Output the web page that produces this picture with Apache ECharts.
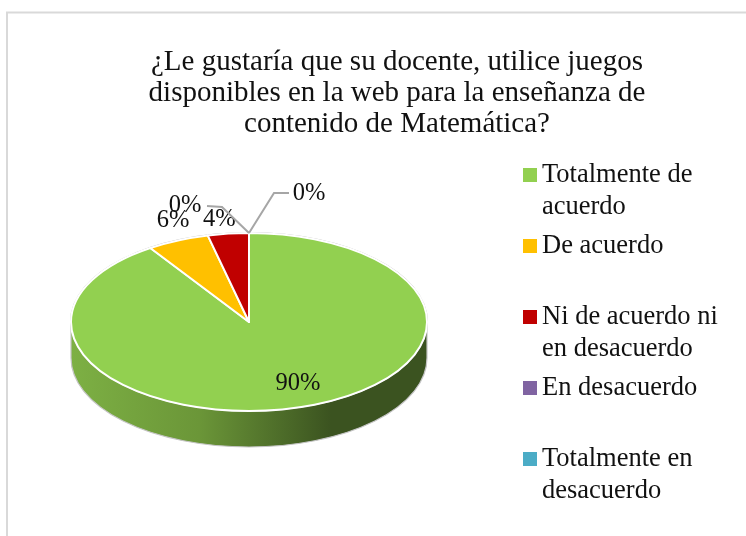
<!DOCTYPE html>
<html><head><meta charset="utf-8">
<style>html,body{margin:0;padding:0;background:#fff}#c{width:746px;height:536px}</style>
<script src="https://cdn.jsdelivr.net/npm/echarts@6/dist/echarts.min.js"></script>
</head><body><div id="c"></div>
<script>
const titleText = '¿Le gustaría que su docente, utilice juegos\ndisponibles en la web para la enseñanza de\ncontenido de Matemática?';
const categories = ['Totalmente de acuerdo','De acuerdo','Ni de acuerdo ni en desacuerdo','En desacuerdo','Totalmente en desacuerdo'];
const legendLabels = ['Totalmente de\nacuerdo','De acuerdo','Ni de acuerdo ni\nen desacuerdo','En desacuerdo','Totalmente en\ndesacuerdo'];
const values = [90,6,4,0,0];
const colors = ['#92D050','#FFC000','#C00000','#8064A2','#4BACC6'];

// layout
const FONT = '"Liberation Serif"';
const C = {x:249,y:322,rx:178,ry:89,depth:36,persp:0.07};
const labelRadius = [0.7,1,1,1,1];
const labelOffset = [[8,3],[-5,-20],[-9,-14],[-64,-27],[60,-39]];
const leaders = [null,null,null,[[-27,-26],[-42,-27]],[[25,-40],[40,-40]]];
const legendTops = [159,230,301,372,443];

const total = values.reduce((a,b)=>a+b,0);
// the tilted disc's far side is foreshortened, as in a 3D pie projection
function warp(t){
  const s=Math.sin(t)*(1-C.persp*Math.cos(t));
  return Math.atan2(s,(Math.cos(t)>=0?1:-1)*Math.sqrt(1-s*s));
}
const pt = (t,f=1)=>{const w=warp(t);return [C.x+C.rx*f*Math.sin(w), C.y-C.ry*f*Math.cos(w)];};
function renderSlice(i){
  return function(params,api){
    const v = api.value(0);
    let before = 0; for(let k=0;k<i;k++) before += values[k];
    const a0 = before/total*2*Math.PI, a1 = (before+v)/total*2*Math.PI, mid=(a0+a1)/2;
    const children = [];
    if(i===0){
      children.push({type:'ellipse',shape:{cx:C.x,cy:C.y,rx:C.rx,ry:C.ry},style:{fill:'none',stroke:'#b5b5b5',lineWidth:2}});
      const l=C.x-C.rx,r=C.x+C.rx,b=C.y+C.depth;
      children.push({type:'path',
        shape:{pathData:`M${l} ${C.y}A${C.rx} ${C.ry} 0 0 0 ${r} ${C.y}L${r} ${b}A${C.rx} ${C.ry} 0 0 1 ${l} ${b}Z`},
        style:{stroke:'#c4c4c4',lineWidth:1.2,fill:{type:'linear',x:0,y:0,x2:1,y2:0,colorStops:[
          {offset:0,color:'#7DB044'},{offset:0.36,color:'#6B9638'},{offset:0.73,color:'#3B5320'},{offset:1,color:'#3B5320'}]}}});
    }
    if(v>0){
      const p0=pt(a0),p1=pt(a1),large=(a1-a0)>Math.PI?1:0;
      children.push({type:'path',
        shape:{pathData:`M${C.x} ${C.y}L${p0[0]} ${p0[1]}A${C.rx} ${C.ry} 0 ${large} 1 ${p1[0]} ${p1[1]}Z`},
        style:{fill:colors[i],stroke:'#fff',lineWidth:2,lineJoin:'round'}});
    }
    const anchor = pt(mid,labelRadius[i]);
    if(leaders[i]){
      const pts=[anchor].concat(leaders[i].map(d=>[anchor[0]+d[0],anchor[1]+d[1]]));
      children.push({type:'polyline',z2:20,shape:{points:pts},style:{fill:'none',stroke:'#a6a6a6',lineWidth:2}});
    }
    children.push({type:'text',z2:30,x:anchor[0]+labelOffset[i][0],y:anchor[1]+labelOffset[i][1],
      style:{text:Math.round(v/total*100)+'%',font:'24.5px '+FONT,fill:'#111',align:'center',verticalAlign:'middle'}});
    return {type:'group',children};
  };
}
const series = categories.map((name,i)=>({
  type:'custom',name,coordinateSystem:'none',silent:true,animation:false,
  z:2+i,
  itemStyle:{color:colors[i]},
  data:[[values[i]]],
  renderItem:renderSlice(i)
}));
const legends = categories.map((name,i)=>{
  const two = legendLabels[i].includes('\n');
  return {
    show:true,data:[name],orient:'vertical',left:523,top:legendTops[i],padding:0,selectedMode:false,
    itemWidth:14,itemHeight:two?46:14,itemGap:0,symbolKeepAspect:false,
    icon:two?'path://M0 0h14v14h-14z M0 46h0':'rect',
    formatter:()=>legendLabels[i],
    textStyle:{fontFamily:FONT,fontSize:26.5,lineHeight:32,color:'#111'}
  };
});
const chart = echarts.init(document.getElementById('c'),null,{renderer:'canvas'});
chart.setOption({
  animation:false,
  backgroundColor:'#fff',
  title:{text:titleText,left:397,top:47,textAlign:'center',padding:0,
    textStyle:{fontFamily:FONT,fontSize:29,lineHeight:31,fontWeight:'normal',color:'#111'}},
  legend:legends,
  graphic:[{type:'polyline',silent:true,shape:{points:[[7,536],[7,12.5],[746,12.5]]},style:{fill:'none',stroke:'#d9d9d9',lineWidth:2}}],
  series
});
</script></body></html>
